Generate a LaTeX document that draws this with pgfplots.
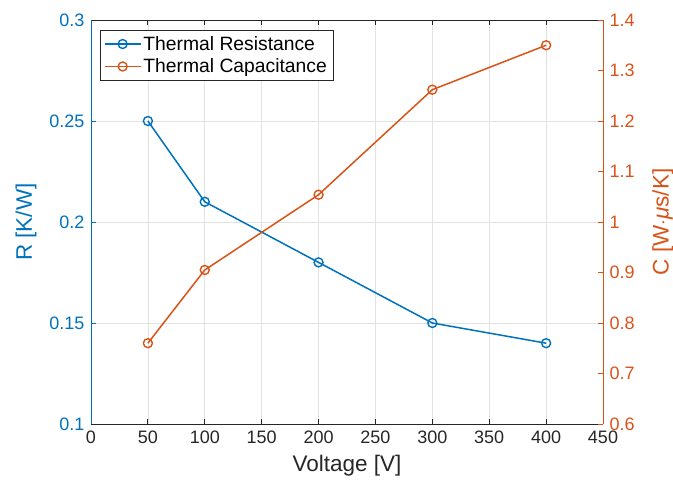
\documentclass[border=0pt]{standalone}
\usepackage{fontspec}
\setmainfont{Liberation Sans}
\usepackage{pgfplots}
\pgfplotsset{compat=1.18}
\definecolor{mblue}{RGB}{0,114,189}
\definecolor{morange}{RGB}{217,83,25}
\definecolor{mgray}{RGB}{38,38,38}
\definecolor{mgrid}{RGB}{226,226,226}
\newcommand{\tickfont}{\fontsize{18bp}{21bp}\selectfont}
\newcommand{\legfont}{\fontsize{19.3bp}{22bp}\selectfont}
\newcommand{\labfont}{\fontsize{22.5bp}{26bp}\selectfont}
\begin{document}
\begin{tikzpicture}
\useasboundingbox (-91bp,-64bp) rectangle (582bp,424bp);
\begin{axis}[
  width=512bp, height=404bp, scale only axis=true,
  xmin=0, xmax=450,
  /pgf/number format/assume math mode=true,
  tick align=inside,
  major tick length=5bp,
  axis x line=box,
  axis y line*=left,
  x axis line style={mgray, line width=0.8bp},
  y axis line style={mblue, line width=0.8bp},
  xtick={0,50,...,450},
  x tick style={mgray, line width=0.8bp},
  xticklabel style={font=\tickfont, text=mgray, yshift=-3bp},
  xlabel={Voltage [V]},
  xlabel style={font=\labfont, text=mgray, yshift=-5bp},
  ymin=0.1, ymax=0.3,
  ytick={0.1,0.15,0.2,0.25,0.3},
  yticklabels={0.1,0.15,0.2,0.25,0.3},
  y tick style={mblue, line width=0.8bp},
  yticklabel style={font=\tickfont, text=mblue, xshift=-3bp},
  ylabel={R [K/W]},
  ylabel style={font=\labfont, text=mblue, yshift=6bp},
  grid=major,
  major grid style={mgrid, line width=0.6bp},
  legend style={at={(0.017,0.975)}, anchor=north west, draw=mgray,
    font=\legfont, inner xsep=4bp, inner ysep=4bp, row sep=3bp,
    cells={anchor=west}},
  legend cell align=left,
  legend image code/.code={%
    \draw[#1] (0bp,0bp) -- (36bp,0bp);
    \draw[#1, mark repeat=2, mark phase=2] plot coordinates {(0bp,0bp) (18bp,0bp) (36bp,0bp)};
  },
]
\addplot[mblue, line width=1.5bp, mark=o, mark size=4.5bp, mark options={line width=1.4bp}]
  coordinates {(50,0.25) (100,0.21) (200,0.18) (300,0.15) (400,0.14)};
\addlegendentry{Thermal Resistance}
\addlegendimage{morange, line width=1.5bp, mark=o, mark size=4.5bp, mark options={line width=1.4bp}}
\addlegendentry{Thermal Capacitance}
\end{axis}
\begin{axis}[
  width=512bp, height=404bp, scale only axis=true,
  xmin=0, xmax=450,
  /pgf/number format/assume math mode=true,
  tick align=inside,
  major tick length=5bp,
  axis x line=none,
  axis y line*=right,
  y axis line style={morange, line width=0.8bp},
  ymin=0.6, ymax=1.4,
  ytick={0.6,0.7,...,1.4},
  yticklabels={0.6,0.7,0.8,0.9,1,1.1,1.2,1.3,1.4},
  y tick style={morange, line width=0.8bp},
  yticklabel style={font=\tickfont, text=morange, xshift=3bp},
  ylabel={C [W$\cdot$\textit{μ}s/K]},
  ylabel style={font=\labfont, text=morange, yshift=-11bp},
]
\addplot[morange, line width=1.5bp, mark=o, mark size=4.5bp, mark options={line width=1.4bp}]
  coordinates {(50,0.76) (100,0.905) (200,1.054) (300,1.262) (400,1.35)};
\end{axis}
\end{tikzpicture}
\end{document}
